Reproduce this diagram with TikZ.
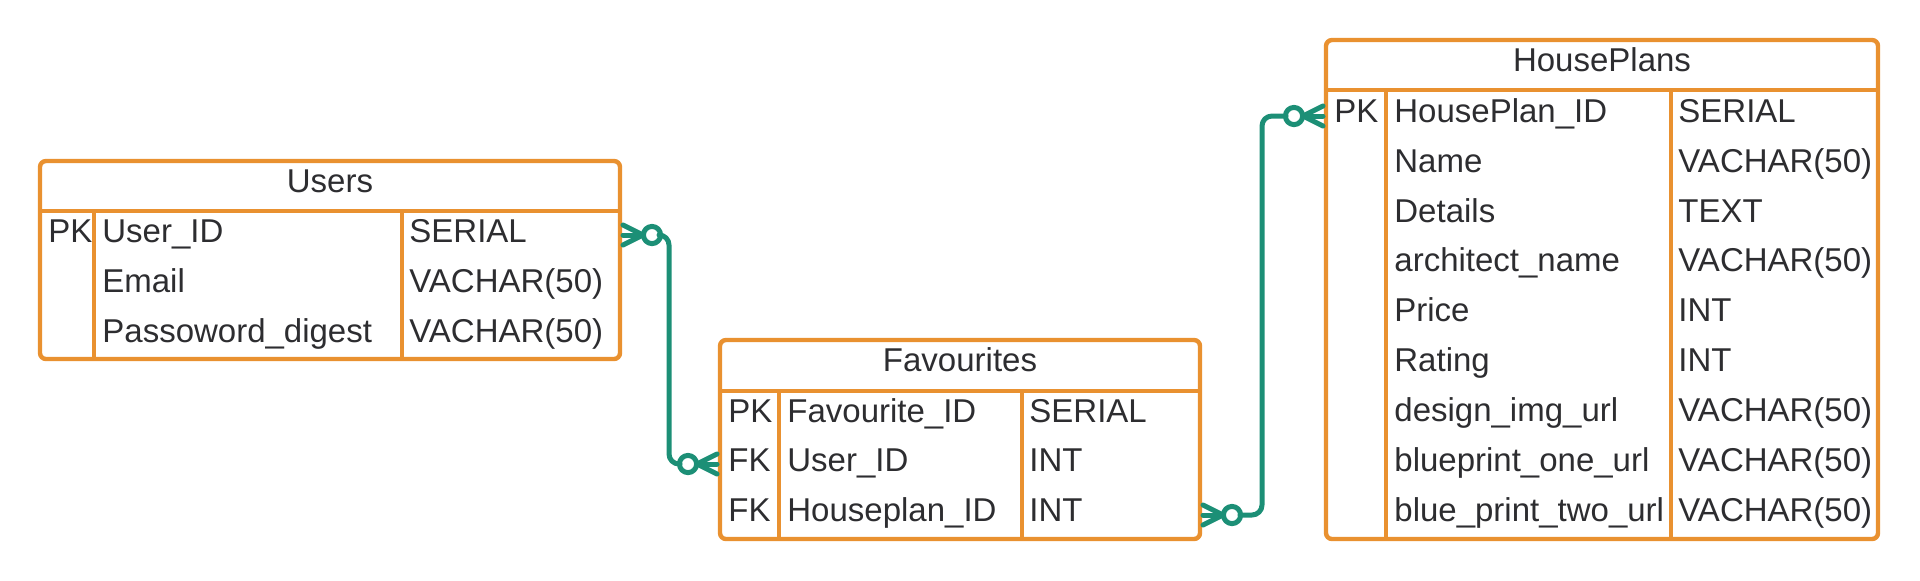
\documentclass[tikz,border=0pt]{standalone}
\usepackage{fontspec}
\setmainfont{Liberation Sans}
\usetikzlibrary{calc}
\definecolor{tborder}{RGB}{233,145,48}
\definecolor{relteal}{RGB}{28,143,118}
\definecolor{txt}{RGB}{45,45,48}
\begin{document}
\begin{tikzpicture}[x=0.5pt,y=-0.5pt,
  tbl/.style={draw=tborder, line width=2.2pt, rounded corners=3pt, anchor=north west, inner sep=0pt, outer sep=0pt},
  sep/.style={draw=tborder, line width=2.2pt},
  cell/.style={anchor=base west, inner sep=0pt, text=txt, font=\fontsize{16.5}{18}\selectfont},
  title/.style={anchor=base, inner sep=0pt, text=txt, font=\fontsize{16.5}{18}\selectfont},
  rowref/.style={inner sep=0pt, outer sep=0pt, minimum height=24pt},
  conn/.style={draw=relteal, line width=2.5pt, line cap=round, line join=round}]
\useasboundingbox (0,0) rectangle (1920,580);

% ---------- Users ----------
\node[tbl, minimum width=290pt, minimum height=99pt] (users) at (40,161) {};
\draw[sep] (40,211) -- (620,211);
\draw[sep] (94,211) -- (94,359);
\draw[sep] (402,211) -- (402,359);
\node[title] (users-title) at (330,192) {Users};
\node[cell] (users-k1) at (48,242) {PK};
\node[cell] (users-n1) at (102,242) {User\_ID};
\node[cell] (users-t1) at (409,242) {SERIAL};
\node[cell] (users-n2) at (102,292) {Email};
\node[cell] (users-t2) at (409,292) {VACHAR(50)};
\node[cell] (users-n3) at (102,342) {Passoword\_digest};
\node[cell] (users-t3) at (409,342) {VACHAR(50)};
\node[rowref, minimum width=290pt] (users-r1) at (330,235) {};

% ---------- Favourites ----------
\node[tbl, minimum width=240pt, minimum height=99.5pt] (fav) at (720,340) {};
\draw[sep] (720,391) -- (1200,391);
\draw[sep] (779,391) -- (779,539);
\draw[sep] (1022,391) -- (1022,539);
\node[title] (fav-title) at (960,371) {Favourites};
\node[cell] (fav-k1) at (728,422) {PK};
\node[cell] (fav-n1) at (787,422) {Favourite\_ID};
\node[cell] (fav-t1) at (1029,422) {SERIAL};
\node[cell] (fav-k2) at (728,471) {FK};
\node[cell] (fav-n2) at (787,471) {User\_ID};
\node[cell] (fav-t2) at (1029,471) {INT};
\node[cell] (fav-k3) at (728,521) {FK};
\node[cell] (fav-n3) at (787,521) {Houseplan\_ID};
\node[cell] (fav-t3) at (1029,521) {INT};
\node[rowref, minimum width=240pt] (fav-r2) at (960,464) {};
\node[rowref, minimum width=240pt] (fav-r3) at (960,515) {};

% ---------- HousePlans ----------
\node[tbl, minimum width=276pt, minimum height=249.5pt] (hp) at (1326,40) {};
\draw[sep] (1326,90) -- (1878,90);
\draw[sep] (1386,90) -- (1386,539);
\draw[sep] (1671,90) -- (1671,539);
\node[title] (hp-title) at (1602,71) {HousePlans};
\node[cell] (hp-k1) at (1334,122) {PK};
\node[cell] (hp-n1) at (1394,122) {HousePlan\_ID};
\node[cell] (hp-t1) at (1678,122) {SERIAL};
\node[cell] (hp-n2) at (1394,172) {Name};
\node[cell] (hp-t2) at (1678,172) {VACHAR(50)};
\node[cell] (hp-n3) at (1394,222) {Details};
\node[cell] (hp-t3) at (1678,222) {TEXT};
\node[cell] (hp-n4) at (1394,271) {architect\_name};
\node[cell] (hp-t4) at (1678,271) {VACHAR(50)};
\node[cell] (hp-n5) at (1394,321) {Price};
\node[cell] (hp-t5) at (1678,321) {INT};
\node[cell] (hp-n6) at (1394,371) {Rating};
\node[cell] (hp-t6) at (1678,371) {INT};
\node[cell] (hp-n7) at (1394,421) {design\_img\_url};
\node[cell] (hp-t7) at (1678,421) {VACHAR(50)};
\node[cell] (hp-n8) at (1394,471) {blueprint\_one\_url};
\node[cell] (hp-t8) at (1678,471) {VACHAR(50)};
\node[cell] (hp-n9) at (1394,521) {blue\_print\_two\_url};
\node[cell] (hp-t9) at (1678,521) {VACHAR(50)};
\node[rowref, minimum width=276pt] (hp-r1) at (1602,116) {};

% ---------- Users -> Favourites ----------
\draw[conn] ($(users-r1.east)+(3,-10)$) -- ($(users-r1.east)+(23,0)$) -- ($(users-r1.east)+(3,10)$);
\draw[conn] ($(users-r1.east)+(3,0)$) -- ($(users-r1.east)+(23,0)$);
\draw[conn] ($(users-r1.east)+(32,0)$) circle[radius=4.3pt];
\draw[conn, rounded corners=5pt] ($(users-r1.east)+(40,0)$) -- ($(users-r1.east)+(49,0)$) |- ($(fav-r2.west)+(-40,0)$);
\draw[conn] ($(fav-r2.west)+(-32,0)$) circle[radius=4.3pt];
\draw[conn] ($(fav-r2.west)+(-3,-10)$) -- ($(fav-r2.west)+(-23,0)$) -- ($(fav-r2.west)+(-3,10)$);
\draw[conn] ($(fav-r2.west)+(-3,0)$) -- ($(fav-r2.west)+(-23,0)$);

% ---------- Favourites -> HousePlans ----------
\draw[conn] ($(fav-r3.east)+(3,-10)$) -- ($(fav-r3.east)+(23,0)$) -- ($(fav-r3.east)+(3,10)$);
\draw[conn] ($(fav-r3.east)+(3,0)$) -- ($(fav-r3.east)+(23,0)$);
\draw[conn] ($(fav-r3.east)+(32,0)$) circle[radius=4.3pt];
\draw[conn, rounded corners=5pt] ($(fav-r3.east)+(40,0)$) -- ($(fav-r3.east)+(62,0)$) |- ($(hp-r1.west)+(-40,0)$);
\draw[conn] ($(hp-r1.west)+(-32,0)$) circle[radius=4.3pt];
\draw[conn] ($(hp-r1.west)+(-3,-10)$) -- ($(hp-r1.west)+(-23,0)$) -- ($(hp-r1.west)+(-3,10)$);
\draw[conn] ($(hp-r1.west)+(-3,0)$) -- ($(hp-r1.west)+(-23,0)$);
\end{tikzpicture}
\end{document}
